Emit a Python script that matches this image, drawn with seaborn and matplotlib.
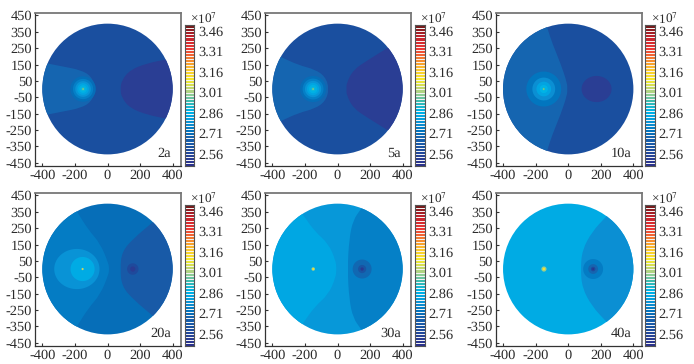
import numpy as np
import seaborn as sns
import matplotlib.pyplot as plt
from matplotlib.colors import LinearSegmentedColormap, Normalize
from matplotlib.patches import Circle, PathPatch
from matplotlib.path import Path

# panel names
panels = ['2a', '5a', '10a', '20a', '30a', '40a']

# colour scale (in 1e7)
scale_values = [2.47, 2.53, 2.60, 2.68, 2.72, 2.78, 2.84, 2.88, 2.95, 3.01, 3.10, 3.18, 3.25, 3.33, 3.42, 3.50]
scale_colors = ['#2a2e8c', '#2a3f94', '#1a4f9f', '#1565b0', '#0072bc', '#0b8fd3', '#00a8e4', '#00b4e6',
                '#3dbcae', '#a8d08d', '#f5e92a', '#fdc82f', '#f58a2e', '#ef3b36', '#c0202a', '#6e1a1a']
cbar_ticks = [2.56, 2.71, 2.86, 3.01, 3.16, 3.31, 3.46]
x_ticks = [-400, -200, 0, 200, 400]
y_ticks = [450, 350, 250, 150, 50, -50, -150, -250, -350, -450]

# background level of each disk
base_2a = 2.60
base_5a = 2.60
base_10a = 2.60
base_20a = 2.71
base_30a = 2.80
base_40a = 2.85

# regions: side, level, upper half of the boundary (mirrored about y=0)
regions_2a = [('left', 2.68, [(-372, 157), (-270, 137), (-168, 117), (-100, 80), (-70, 0)]),
              ('right', 2.53, [(364, 182), (241, 157), (139, 117), (88, 55), (78, 0)])]
regions_5a = [('left', 2.68, [(-343, 194), (-241, 147), (-139, 120), (-75, 76), (-51, 0)]),
              ('right', 2.53, [(311, 254), (188, 178), (96, 117), (55, 35), (55, 0)])]
regions_10a = [('left', 2.68, [(-129, 376), (-98, 280), (-47, 157), (-6, 35), (-6, 0)])]
regions_20a = [('left', 2.74, [(-188, 352), (-117, 239), (-45, 157), (6, 35), (10, 0)]),
               ('right', 2.64, [(282, 290), (160, 188), (88, 106), (78, 0)])]
regions_30a = [('left', 2.84, [(-211, 331), (-139, 229), (-57, 157), (-12, 55), (-6, 0)]),
               ('right', 2.75, [(143, 366), (96, 300), (72, 188), (61, 0)])]
regions_40a = [('right', 2.78, [(229, 317), (147, 229), (86, 117), (76, 0)])]

# spots: centre x, half width, half height, level (outermost first)
spots_2a = [(-150, 78, 78, 2.71), (-150, 62, 62, 2.75), (-150, 48, 48, 2.79), (-150, 36, 36, 2.83),
            (-150, 24, 24, 2.87), (-150, 14, 14, 2.90), (-150, 6, 6, 2.96), (-150, 3, 3, 3.12)]
spots_5a = [(-150, 80, 80, 2.71), (-150, 64, 64, 2.75), (-150, 50, 50, 2.79), (-150, 38, 38, 2.83),
            (-150, 26, 26, 2.87), (-150, 14, 14, 2.90), (-150, 6, 6, 2.96), (-150, 3, 3, 3.12)]
spots_10a = [(-150, 107, 107, 2.73), (-150, 70, 70, 2.78), (-150, 45, 45, 2.83), (-150, 25, 25, 2.88),
             (-150, 8, 8, 2.94), (-150, 3, 3, 3.12),
             (174, 92, 80, 2.53)]
spots_20a = [(-188, 139, 123, 2.79), (-153, 74, 74, 2.85), (-153, 7, 7, 3.00), (-153, 4, 4, 3.12),
             (155, 35, 35, 2.58), (155, 16, 16, 2.52)]
spots_30a = [(-149, 11, 11, 3.00), (-149, 6, 6, 3.12),
             (151, 58, 58, 2.69), (151, 25, 25, 2.62), (151, 10, 10, 2.51)]
spots_40a = [(-149, 16, 16, 3.00), (-149, 8, 8, 3.12),
             (153, 61, 61, 2.74), (153, 30, 30, 2.68), (153, 14, 14, 2.58), (153, 6, 6, 2.49)]

bases = [base_2a, base_5a, base_10a, base_20a, base_30a, base_40a]
regions = [regions_2a, regions_5a, regions_10a, regions_20a, regions_30a, regions_40a]
spots = [spots_2a, spots_5a, spots_10a, spots_20a, spots_30a, spots_40a]

W, H = 694, 364
disk_r = 400
n_levels = 46

sns.set_style('ticks')
plt.rcParams['font.family'] = ['Liberation Serif', 'DejaVu Serif']
plt.rcParams['mathtext.fontset'] = 'stix'
plt.rcParams['axes.unicode_minus'] = False
plt.rcParams['text.hinting'] = 'no_hinting'

pos = [(v - scale_values[0]) / (scale_values[-1] - scale_values[0]) for v in scale_values]
cmap = LinearSegmentedColormap.from_list('bands', list(zip(pos, scale_colors)))
norm = Normalize(scale_values[0], scale_values[-1])


def px_axes(fig, left, top, width, height):
    """Axes placed by picture pixels"""
    return fig.add_axes([left / W, 1 - (top + height) / H, width / W, height / H])


def region_patch(side, level, upper):
    """Smooth closed patch from the upper half boundary"""
    pts = np.array(upper, dtype=float)
    # run past the rim so the clip does the edge
    first = pts[0] + (pts[0] - pts[1]) * 0.6
    half = np.vstack([first, pts])
    lower = half[::-1][1:] * [1, -1]
    line = np.vstack([half, lower])
    verts = [line[0]]
    codes = [Path.MOVETO]
    for a, b in zip(line[1:-2], line[2:-1]):
        verts += [a, (a + b) / 2]
        codes += [Path.CURVE3, Path.CURVE3]
    verts += [line[-2], line[-1]]
    codes += [Path.CURVE3, Path.CURVE3]
    far = -600 if side == 'left' else 600
    verts += [(far, line[-1][1]), (far, line[0][1]), line[0]]
    codes += [Path.LINETO, Path.LINETO, Path.CLOSEPOLY]
    return PathPatch(Path(verts, codes), fc=cmap(norm(level)), ec='none')


def draw_panel(ax, name, base, panel_regions, panel_spots):
    disk = Circle((0, 0), disk_r, fc=cmap(norm(base)), ec='none', zorder=1)
    ax.add_patch(disk)
    for side, level, upper in panel_regions:
        patch = region_patch(side, level, upper)
        patch.set_zorder(2)
        ax.add_patch(patch)
        patch.set_clip_path(disk)
    for cx, rx, ry, level in panel_spots:
        t = np.linspace(0, 2 * np.pi, 100)
        ax.fill(cx + rx * np.cos(t), ry * np.sin(t), color=cmap(norm(level)), lw=0, zorder=3)
    ax.set_xlim(-445, 451)
    ax.set_ylim(-471, 467)
    ax.set_xticks(x_ticks)
    ax.set_yticks(y_ticks)
    ax.tick_params(direction='in', length=2.5, width=0.8, pad=2, labelsize=10.4, color='#333333', labelcolor='#2b2b2b')
    for s in ['left', 'bottom']:
        ax.spines[s].set_color('#333333')
        ax.spines[s].set_linewidth(0.9)
    for s in ['top', 'right']:
        ax.spines[s].set_color('#777777')
        ax.spines[s].set_linewidth(1.3)
    ax.text(388, -395, name, ha='right', va='center', fontsize=10.4, color='#2b2b2b')


def draw_cbar(cax):
    step = (scale_values[-1] - scale_values[0]) / n_levels
    levels = (scale_values[0] + step * (np.arange(n_levels) + 0.5)).reshape(-1, 1)
    sns.heatmap(levels, ax=cax, cmap=cmap, norm=norm, cbar=False, linewidths=0.45, linecolor='#f4f4f4',
                xticklabels=False)
    cax.set_ylim(0, n_levels)
    cax.yaxis.tick_right()
    cax.set_yticks([(v - scale_values[0]) / step for v in cbar_ticks])
    cax.set_yticklabels([f'{v:.2f}' for v in cbar_ticks], rotation=0)
    cax.tick_params(axis='y', length=0, pad=2.5, labelsize=10.4, labelcolor='#2b2b2b')
    for s in cax.spines.values():
        s.set_visible(True)
        s.set_color('#555555')
        s.set_linewidth(0.8)
    cax.text(0.55, 1.0, r'×10$^{7}$', transform=cax.transAxes, ha='left', va='bottom', fontsize=9.5, color='#2b2b2b')


fig = plt.figure(figsize=(W / 100, H / 100), dpi=100)
lefts = [35, 265, 495.7]
tops = [12.7, 192.7]

for i, name in enumerate(panels):
    left = lefts[i % 3]
    top = tops[i // 3]
    ax = px_axes(fig, left, top, 146, 153.3)
    draw_panel(ax, name, bases[i], regions[i], spots[i])
    cax = px_axes(fig, left + 149.5, top + 12.5, 10, 140.8)
    draw_cbar(cax)

fig.savefig('out.png', dpi=100)
